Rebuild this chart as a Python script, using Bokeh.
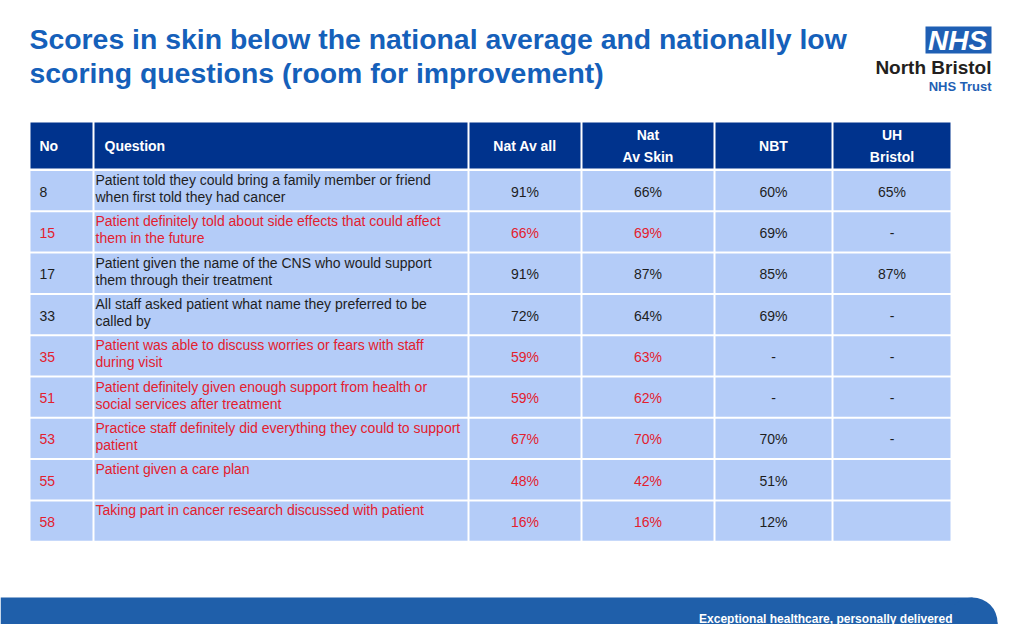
from bokeh.plotting import figure
from bokeh.models import Range1d, ColumnDataSource
from bokeh.core.properties import value
from bokeh.embed import file_html
from bokeh.resources import INLINE

# ---------------- data ----------------
title_lines = ["Scores in skin below the national average and nationally low",
               "scoring questions (room for improvement)"]
header_labels = ["No", "Question", "Nat Av all", "Nat\nAv Skin", "NBT", "UH\nBristol"]
nos = ["8", "15", "17", "33", "35", "51", "53", "55", "58"]
questions = [
    "Patient told they could bring a family member or friend\nwhen first told they had cancer",
    "Patient definitely told about side effects that could affect\nthem in the future",
    "Patient given the name of the CNS who would support\nthem through their treatment",
    "All staff asked patient what name they preferred to be\ncalled by",
    "Patient was able to discuss worries or fears with staff\nduring visit",
    "Patient definitely given enough support from health or\nsocial services after treatment",
    "Practice staff definitely did everything they could to support\npatient",
    "Patient given a care plan",
    "Taking part in cancer research discussed with patient",
]
nat_av_all = ["91%", "66%", "91%", "72%", "59%", "59%", "67%", "48%", "16%"]
nat_av_skin = ["66%", "69%", "87%", "64%", "63%", "62%", "70%", "42%", "16%"]
nbt = ["60%", "69%", "85%", "69%", "-", "-", "70%", "51%", "12%"]
uh_bristol = ["65%", "-", "87%", "-", "-", "-", "-", "", ""]
flagged = [False, True, False, False, True, True, True, True, True]
logo_box_text = "NHS"
logo_name = "North Bristol"
logo_sub = "NHS Trust"
footer_text = "Exceptional healthcare, personally delivered"

# ---------------- styles / layout ----------------
NAVY = "#00338D"
CELL = "#B4CCF8"
RED = "#E3202E"
DARK = "#1E1E1E"
TITLE_BLUE = "#1560BA"
NHS_BLUE = "#1F5FB4"
BAND = "#1F5FAA"
FONT = value("Liberation Sans")

W, H = 1008, 624
p = figure(width=W, height=H, x_range=Range1d(0, W), y_range=Range1d(H, 0),
           output_backend="svg", toolbar_location=None, min_border=0,
           x_axis_location=None, y_axis_location=None)
p.grid.visible = False
p.outline_line_color = None
p.background_fill_color = "white"
p.border_fill_color = "white"

col_edges = [30, 93, 468, 581, 714, 832, 950]
gap = 2
head_top, head_bot = 122, 168
row_top0, pitch = 170.5, 41.3
ncols = len(col_edges) - 1
nrows = len(nos)


def col_lr(c):
    l = col_edges[c] + (gap / 2 if c > 0 else 0)
    r = col_edges[c + 1] - (gap / 2 if c < ncols - 1 else 0)
    return l, r


# header cells
hl, hr, ht, hb = [], [], [], []
for c in range(ncols):
    l, r = col_lr(c)
    hl.append(l); hr.append(r); ht.append(head_top); hb.append(head_bot)
p.quad(left=hl, right=hr, top=ht, bottom=hb, fill_color=NAVY, line_color=None)

# body cells
bl, br, bt, bb = [], [], [], []
for i in range(nrows):
    top = row_top0 + i * pitch
    for c in range(ncols):
        l, r = col_lr(c)
        bl.append(l); br.append(r); bt.append(top); bb.append(top + pitch - gap)
p.quad(left=bl, right=br, top=bt, bottom=bb, fill_color=CELL, line_color=None)

# header texts
hx, hy, htxt, halign = [], [], [], []
for c, lab in enumerate(header_labels):
    l, r = col_lr(c)
    lines = lab.split("\n")
    if c == 0:
        x, al = 39, "left"
    elif c == 1:
        x, al = 104, "left"
    else:
        x, al = (l + r) / 2, "center"
    mid = (head_top + head_bot) / 2
    for k, ln in enumerate(lines):
        hx.append(x)
        hy.append(mid + (k - (len(lines) - 1) / 2) * 22)
        htxt.append(ln)
        halign.append(al)
hsrc = ColumnDataSource(dict(x=hx, y=hy, t=htxt, a=halign))
p.text(x="x", y="y", text="t", text_align="a", source=hsrc, text_baseline="middle",
       text_font=FONT, text_font_style="bold", text_font_size="14px", text_color="white")

# body texts
tx, ty, tt, ta, tc = [], [], [], [], []
value_cols = [nat_av_all, nat_av_skin, nbt, uh_bristol]
red_value_cols = [True, True, False, False]
for i in range(nrows):
    top = row_top0 + i * pitch
    mid = top + (pitch - gap) / 2
    col = RED if flagged[i] else DARK
    tx.append(39); ty.append(mid + 1); tt.append(nos[i]); ta.append("left"); tc.append(col)
    for k, ln in enumerate(questions[i].split("\n")):
        tx.append(95); ty.append(top + 9 + k * 17); tt.append(ln); ta.append("left"); tc.append(col)
    for j, vals in enumerate(value_cols):
        l, r = col_lr(j + 2)
        tx.append((l + r) / 2); ty.append(mid + 1); tt.append(vals[i]); ta.append("center")
        tc.append(RED if (flagged[i] and red_value_cols[j]) else DARK)
bsrc = ColumnDataSource(dict(x=tx, y=ty, t=tt, a=ta, c=tc))
p.text(x="x", y="y", text="t", text_align="a", text_color="c", source=bsrc,
       text_baseline="middle", text_font=FONT, text_font_size="14px")

# title
p.text(x=[29, 29], y=[38, 72], text=title_lines, text_baseline="middle",
       text_align="left", text_font=FONT, text_font_style="bold",
       text_font_size="28.4px", text_color=TITLE_BLUE)

# logo
p.quad(left=[925], right=[991], top=[26], bottom=[53], fill_color=NHS_BLUE, line_color=None)
p.text(x=[957], y=[40], text=[logo_box_text], text_align="center", text_baseline="middle",
       text_font=FONT, text_font_style="bold italic", text_font_size="28px", text_color="white")
p.text(x=[991], y=[67], text=[logo_name], text_align="right", text_baseline="middle",
       text_font=FONT, text_font_style="bold", text_font_size="19px", text_color="#231F20")
p.text(x=[991], y=[86], text=[logo_sub], text_align="right", text_baseline="middle",
       text_font=FONT, text_font_style="bold", text_font_size="13px", text_color=NHS_BLUE)

# footer band with rounded top-right corner
p.quad(left=[0], right=[972], top=[597], bottom=[640], fill_color=BAND, line_color=None)
p.quad(left=[972], right=[997], top=[622], bottom=[640], fill_color=BAND, line_color=None)
p.circle(x=[972], y=[622], radius=25, fill_color=BAND, line_color=None)
p.text(x=[952], y=[618], text=[footer_text], text_align="right", text_baseline="middle",
       text_font=FONT, text_font_style="bold", text_font_size="12px", text_color="white")

open("out.html", "w").write(file_html(p, INLINE))
